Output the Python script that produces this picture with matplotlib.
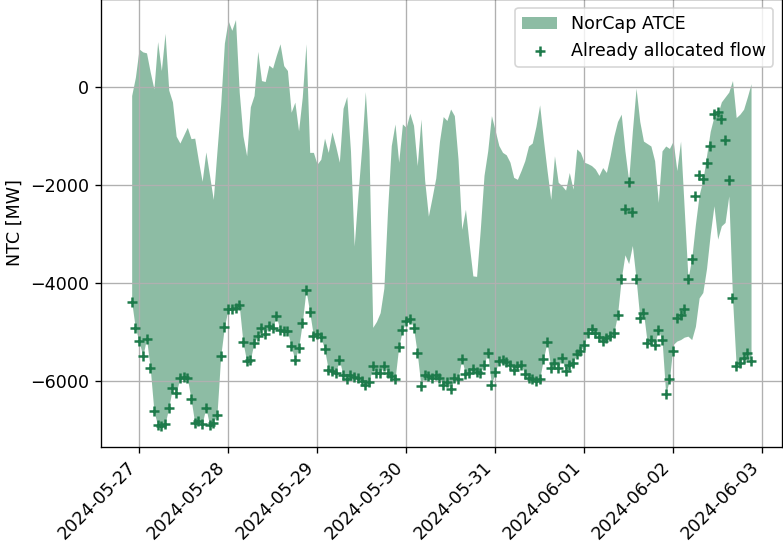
import pandas as pd
import matplotlib
matplotlib.use("Agg")
import matplotlib.pyplot as plt
import matplotlib.dates as mdates

# --- Data (hourly) ---
start_time = "2024-05-26 22:00"
n_hours = 168

norcap_upper = [
    -170, 200, 780, 720, 700, 310, -35, 930, 340, 1100,
    -60, -300, -1000, -1140, -980, -820, -1050, -1040, -1500, -1920,
    -1320, -1800, -2290, -1300, -350, 900, 1360, 1160, 1380, -100,
    -990, -1400, -400, -170, 730, 135, 115, 450, 390, 650,
    885, 440, 340, -510, -305, -890, -200, 885, -1330, -1330,
    -1570, -1470, -1040, -1330, -910, -1200, -1530, -430, -190, -1300,
    -3240, -2200, -1260, -90, -1300, -4900, -4780, -4600, -4100, -2500,
    -1190, -750, -1530, -750, -820, -530, -780, -1600, -650, -1900,
    -2630, -2250, -1850, -1100, -600, -680, -445, -580, -1470, -2900,
    -2490, -3200, -3850, -3860, -2900, -1800, -1300, -580, -880, -1190,
    -1330, -1380, -1530, -1840, -1880, -1700, -1500, -1200, -1140, -800,
    -360, -1060, -1700, -2290, -1400, -1940, -2010, -2100, -1740, -2080,
    -1260, -1330, -1530, -1560, -1600, -1670, -1800, -1640, -1740, -1400,
    -1000, -700, -550, -1300, -1900, -900, -20, -700, -1100, -1150,
    -1200, -1500, -2350, -1300, -1200, -1250, -1100, -1700, -1100, -2500,
    -3900, -3500, -2800, -2200, -1900, -1400, -900, -600, -550, -300,
    -200, -100, 135, -620, -550, -450, -200, 70,
]

norcap_lower = [
    -4380, -4920, -5180, -5490, -5130, -5730, -6610, -6900, -6920, -6870,
    -6540, -6130, -6240, -5930, -5920, -5930, -6360, -6850, -6820, -6870,
    -6540, -6890, -6850, -6680, -5490, -4890, -4530, -4530, -4500, -4450,
    -5200, -5590, -5560, -5210, -5080, -4910, -5040, -4880, -4910, -4670,
    -4960, -4980, -4980, -5280, -5560, -5320, -4810, -4140, -4590, -5070,
    -5040, -5090, -5350, -5760, -5800, -5830, -5560, -5880, -5960, -5880,
    -5920, -5930, -5990, -6070, -6020, -5690, -5840, -5830, -5690, -5830,
    -5900, -5960, -5300, -4960, -4770, -4720, -4910, -5430, -6100, -5880,
    -5900, -5930, -5880, -5930, -6070, -6020, -6160, -5930, -5960, -5540,
    -5860, -5840, -5750, -5820, -5830, -5660, -5420, -6070, -5820, -5590,
    -5560, -5600, -5660, -5760, -5690, -5660, -5860, -5930, -5960, -5990,
    -5960, -5550, -5200, -5730, -5620, -5730, -5520, -5800, -5660, -5620,
    -5450, -5390, -5250, -5010, -4940, -5010, -5100, -5180, -5110, -5070,
    -5020, -4640, -3910, -3420, -3600, -3230, -3910, -4700, -4600, -5210,
    -5150, -5250, -4960, -5150, -6270, -5960, -5250, -5180, -5150, -5100,
    -5080, -5150, -4880, -4300, -4190, -3700, -3000, -2420, -3100, -2830,
    -2760, -2220, -4300, -5690, -5620, -5520, -5420, -5590,
]

allocated_flow = [
    -4380, -4920, -5180, -5490, -5130, -5730, -6610, -6900, -6920, -6870,
    -6540, -6130, -6240, -5930, -5920, -5930, -6360, -6850, -6820, -6870,
    -6540, -6890, -6850, -6680, -5490, -4890, -4530, -4530, -4500, -4450,
    -5200, -5590, -5560, -5210, -5080, -4910, -5040, -4880, -4910, -4670,
    -4960, -4980, -4980, -5280, -5560, -5320, -4810, -4140, -4590, -5070,
    -5040, -5090, -5350, -5760, -5800, -5830, -5560, -5880, -5960, -5880,
    -5920, -5930, -5990, -6070, -6020, -5690, -5840, -5830, -5690, -5830,
    -5900, -5960, -5300, -4960, -4770, -4720, -4910, -5430, -6100, -5880,
    -5900, -5930, -5880, -5930, -6070, -6020, -6160, -5930, -5960, -5540,
    -5860, -5840, -5750, -5820, -5830, -5660, -5420, -6070, -5820, -5590,
    -5560, -5600, -5660, -5760, -5690, -5660, -5860, -5930, -5960, -5990,
    -5960, -5550, -5200, -5730, -5620, -5730, -5520, -5800, -5660, -5620,
    -5450, -5390, -5250, -5010, -4940, -5010, -5100, -5180, -5110, -5070,
    -5020, -4640, -3910, -2480, -1940, -2540, -3910, -4700, -4600, -5210,
    -5150, -5250, -4960, -5150, -6270, -5960, -5390, -4700, -4640, -4530,
    -3920, -3500, -2220, -1800, -1870, -1550, -1190, -550, -500, -650,
    -1070, -1900, -4300, -5690, -5620, -5520, -5420, -5590,
]

times = pd.date_range(start_time, periods=n_hours, freq="h")
color = "#1d7a4a"

plt.rcParams["font.size"] = 10.5

# --- Plot ---
fig = plt.figure(figsize=(783 / 120, 545 / 120), dpi=120)
ax = fig.add_axes([100.7 / 783, 1 - 446.7 / 545, 681.3 / 783, 447.5 / 545])

ax.fill_between(times, norcap_lower, norcap_upper, color=color, alpha=0.5,
                linewidth=0, label="NorCap ATCE")
ax.scatter(times, allocated_flow, marker="+", color=color,
           label="Already allocated flow", zorder=3)

ax.xaxis.set_major_locator(mdates.DayLocator())
ax.xaxis.set_major_formatter(mdates.DateFormatter("%Y-%m-%d"))
plt.setp(ax.get_xticklabels(), rotation=45, ha="right")
ax.set_ylabel("NTC [MW]")
ax.grid(True)
ax.legend(loc="upper right")

fig.savefig("out.png", dpi=120)
